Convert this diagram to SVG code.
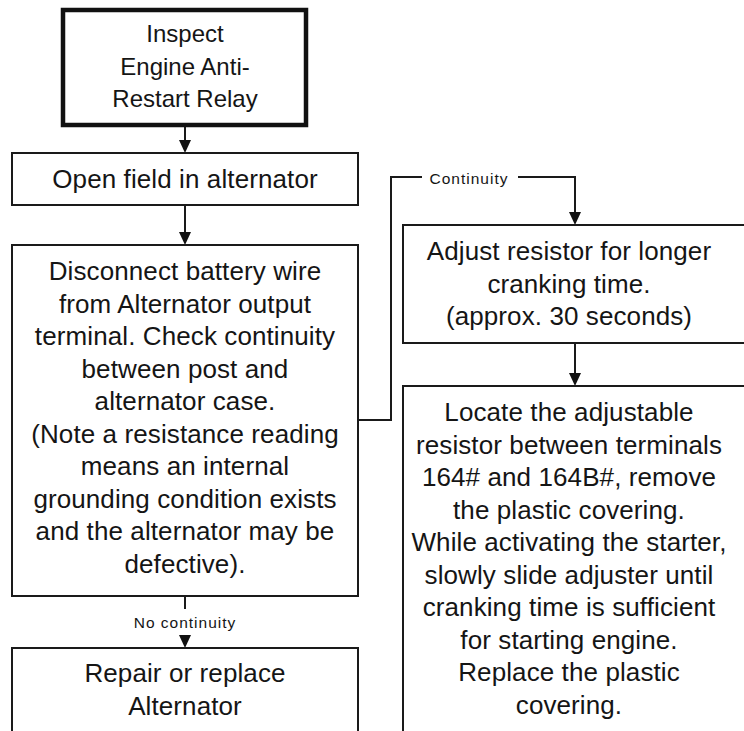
<svg xmlns="http://www.w3.org/2000/svg" width="744" height="731" viewBox="0 0 744 731">
  <style>
    .box { fill: #ffffff; stroke: #1a1a1a; stroke-width: 2; }
    .start { fill: #ffffff; stroke: #111111; stroke-width: 4.5; }
    .line { fill: none; stroke: #1a1a1a; stroke-width: 2; }
    .head { fill: #111111; }
    text { font-family: "Liberation Sans", Arial, sans-serif; fill: #151515; text-anchor: middle; }
    .t { font-size: 26px; letter-spacing: 0.1px; }
    .ts { font-size: 24px; }
    .lbl { font-size: 15.5px; letter-spacing: 1px; }
  </style>
  <rect width="744" height="731" fill="#ffffff"/>

  <g id="connectors">
    <!-- start -> open field -->
    <line class="line" x1="185" y1="127" x2="185" y2="141"/>
    <polygon class="head" points="179,140 191,140 185,153"/>
    <!-- open field -> disconnect -->
    <line class="line" x1="185" y1="205" x2="185" y2="233"/>
    <polygon class="head" points="179,232 191,232 185,245"/>
    <!-- disconnect -> adjust (Continuity) -->
    <polyline class="line" points="358,420 391,420 391,177 422,177"/>
    <polyline class="line" points="518,177 575,177 575,213"/>
    <polygon class="head" points="569,212 581,212 575,225"/>
    <text class="lbl" x="469" y="184">Continuity</text>
    <!-- adjust -> locate -->
    <line class="line" x1="575" y1="343" x2="575" y2="374"/>
    <polygon class="head" points="569,373 581,373 575,386"/>
    <!-- disconnect -> repair (No continuity) -->
    <line class="line" x1="185" y1="596" x2="185" y2="609"/>
    <text class="lbl" x="185" y="628">No continuity</text>
    <polygon class="head" points="179,635 191,635 185,648"/>
  </g>

  <g id="node-inspect">
    <rect class="start" x="63" y="10" width="243" height="115"/>
    <text class="ts" x="185" y="42">Inspect</text>
    <text class="ts" x="185" y="74.5">Engine Anti-</text>
    <text class="ts" x="185" y="107">Restart Relay</text>
  </g>

  <g id="node-open-field">
    <rect class="box" x="12" y="153" width="346" height="52"/>
    <text class="t" x="185" y="188">Open field in alternator</text>
  </g>

  <g id="node-disconnect">
    <rect class="box" x="12" y="245" width="346" height="351"/>
    <text class="t" x="185" y="280">Disconnect battery wire</text>
    <text class="t" x="185" y="312.5">from Alternator output</text>
    <text class="t" x="185" y="345">terminal. Check continuity</text>
    <text class="t" x="185" y="377.5">between post and</text>
    <text class="t" x="185" y="410">alternator case.</text>
    <text class="t" x="185" y="442.5">(Note a resistance reading</text>
    <text class="t" x="185" y="475">means an internal</text>
    <text class="t" x="185" y="507.5">grounding condition exists</text>
    <text class="t" x="185" y="540">and the alternator may be</text>
    <text class="t" x="185" y="572.5">defective).</text>
  </g>

  <g id="node-repair">
    <rect class="box" x="12" y="648" width="346" height="100"/>
    <text class="t" x="185" y="682">Repair or replace</text>
    <text class="t" x="185" y="714.5">Alternator</text>
  </g>

  <g id="node-adjust">
    <rect class="box" x="403" y="225" width="350" height="118"/>
    <text class="t" x="569" y="260">Adjust resistor for longer</text>
    <text class="t" x="569" y="292.5">cranking time.</text>
    <text class="t" x="569" y="325">(approx. 30 seconds)</text>
  </g>

  <g id="node-locate">
    <rect class="box" x="403" y="386" width="350" height="360"/>
    <text class="t" x="569" y="421">Locate the adjustable</text>
    <text class="t" x="569" y="453.5">resistor between terminals</text>
    <text class="t" x="569" y="486">164# and 164B#, remove</text>
    <text class="t" x="569" y="518.5">the plastic covering.</text>
    <text class="t" x="569" y="551">While activating the starter,</text>
    <text class="t" x="569" y="583.5">slowly slide adjuster until</text>
    <text class="t" x="569" y="616">cranking time is sufficient</text>
    <text class="t" x="569" y="648.5">for starting engine.</text>
    <text class="t" x="569" y="681">Replace the plastic</text>
    <text class="t" x="569" y="713.5">covering.</text>
  </g>
</svg>
